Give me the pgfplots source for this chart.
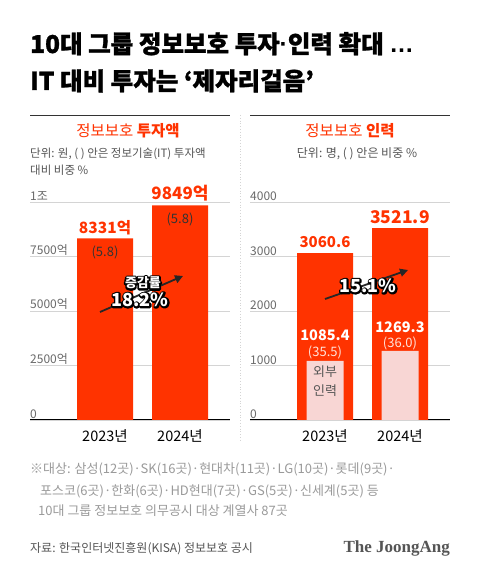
\documentclass[border=0pt]{standalone}
\usepackage{fontspec}
\setmainfont{Noto Sans CJK KR}
\newfontfamily\logofont{Liberation Serif}
\newfontfamily\latinf{Liberation Sans}
\usepackage{pgfplots}
\pgfplotsset{compat=1.18}
\usetikzlibrary{arrows.meta}
\definecolor{barred}{HTML}{FF3300}
\definecolor{pinkbar}{HTML}{F8D6D4}
\definecolor{gridgray}{HTML}{D4D4D4}
\definecolor{tickgray}{HTML}{6A6A6A}
\definecolor{notegray}{HTML}{9A9A9A}
\definecolor{srcgray}{HTML}{555555}
\definecolor{lightlab}{HTML}{FFE3DA}
\newcommand{\fs}[1]{\fontsize{#1}{#1}\selectfont}
\newcommand{\strk}[1]{\special{pdf:literal direct 2 Tr 3.4 w 1 j 0 0 0 RG}#1\special{pdf:literal direct 0 Tr}}
\newcommand{\outl}[3]{%
  \node[text=black,font=#2,inner sep=0pt] at (#1) {\strk{#3}};
  \node[text=white,font=#2,inner sep=0pt] at (#1) {#3};}
\pgfplotsset{panel/.style={
  scale only axis, width=200pt, height=218pt,
  xmin=0, xmax=200, ymin=0,
  axis x line*=bottom, axis y line*=left,
  y axis line style={draw=none},
  x axis line style={black, line width=1pt},
  major tick length=0pt,
  scaled y ticks=false,
  ymajorgrids, grid style={gridgray, line width=0.6pt},
  xtick={75,150}, xticklabels={2023년,2024년},
  xticklabel style={font=\fs{14.5}, text=black, yshift=-6pt},
  yticklabel style={font=\fs{12}, text=tickgray, anchor=south west, inner sep=0pt, yshift=1pt},
  clip=false,
}}
\begin{document}
\begin{tikzpicture}[x=1pt,y=1pt]
\path[use as bounding box, fill=white] (0,0) rectangle (480,578);
% titles
\node[anchor=base west, inner sep=0pt, font=\fs{24.5}\bfseries\addfontfeature{FakeBold=1.2}] at (30,525) {10대 그룹 정보보호 투자{\latinf\bfseries ·}인력 확대 {\latinf\bfseries …}};
\node[anchor=base west, inner sep=0pt, font=\fs{24.5}\bfseries\addfontfeature{FakeBold=1.2}] at (30,488) {IT 대비 투자는 ‘제자리걸음’};
% rules
\draw[black!80, line width=0.9pt] (30,463) -- (230,463);
\draw[black!80, line width=0.9pt] (250,463) -- (450,463);
\draw[gridgray, dotted, line width=0.8pt] (240,463) -- (240,138);
% subtitles
\node[anchor=base, inner sep=0pt, font=\fs{15.5}, text=barred] at (128,441) {정보보호 \textbf{투자액}};
\node[anchor=base, inner sep=0pt, font=\fs{15.5}, text=barred] at (350,441) {정보보호 \textbf{인력}};
\node[anchor=base west, inner sep=0pt, font=\fs{11.5}, text=srcgray] at (30,420) {단위: 원, ( ) 안은 정보기술(IT) 투자액};
\node[anchor=base west, inner sep=0pt, font=\fs{11.5}, text=srcgray] at (30,403) {대비 비중 \%};
\node[anchor=base, inner sep=0pt, font=\fs{12}, text=srcgray] at (357,420) {단위: 명, ( ) 안은 비중 \%};
% left panel
\begin{axis}[panel, at={(30pt,158pt)}, anchor=south west,
  ymax=10000, ytick={0,2500,5000,7500,10000},
  yticklabels={0,2500억,5000억,7500억,1조}]
\addplot[ybar, bar width=56pt, bar shift=0pt, fill=barred, draw=none] coordinates {(75,8331) (150,9849)};
\node[font=\fs{15.5}\bfseries, text=barred] at (axis cs:75,8807) {8331억};
\node[font=\fs{13}, text=black!80] at (axis cs:75,7706) {(5.8)};
\node[font=\fs{17}\bfseries, text=barred] at (axis cs:150,10413) {9849억};
\node[font=\fs{13}, text=black!80] at (axis cs:150,9220) {(5.8)};
\draw[black!85, line width=1.8pt, -{Triangle[length=8pt,width=8pt]}] (axis cs:70,4954) -- (axis cs:153,6606);
\outl{axis cs:113,6284}{\fs{13}\bfseries}{증감률}
\outl{axis cs:110,5505}{\fs{18}\bfseries}{18.2\%}
\end{axis}
% right panel
\begin{axis}[panel, at={(250pt,158pt)}, anchor=south west,
  ymax=4000, ytick={0,1000,2000,3000,4000},
  yticklabels={0,1000,2000,3000,4000}]
\addplot[ybar, bar width=56pt, bar shift=0pt, fill=barred, draw=none] coordinates {(75,3060.6) (150,3521.9)};
\addplot[ybar, bar width=37pt, bar shift=0pt, fill=pinkbar, draw=none] coordinates {(75,1085.4) (150,1269.3)};
\node[font=\fs{15}\bfseries, text=barred] at (axis cs:75,3266) {3060.6};
\node[font=\fs{17.5}\bfseries, text=barred] at (axis cs:150,3725) {3521.9};
\node[font=\fs{14.5}\bfseries, text=white] at (axis cs:75,1560) {1085.4};
\node[font=\fs{13}, text=lightlab] at (axis cs:75,1248) {(35.5)};
\node[font=\fs{14.5}\bfseries, text=white] at (axis cs:150,1706) {1269.3};
\node[font=\fs{13}, text=lightlab] at (axis cs:150,1413) {(36.0)};
\node[font=\fs{13}, text=srcgray] at (axis cs:75,881) {외부};
\node[font=\fs{13}, text=srcgray] at (axis cs:75,532) {인력};
\draw[black!85, line width=1.8pt, -{Triangle[length=8pt,width=8pt]}] (axis cs:75,2220) -- (axis cs:158,2752);
\outl{axis cs:118,2459}{\fs{18}\bfseries}{15.1\%}
\end{axis}
% footnotes
\node[anchor=base west, inner sep=0pt, font=\fs{13}, text=notegray] at (30,104) {※대상: 삼성(12곳)·SK(16곳)·현대차(11곳)·LG(10곳)·롯데(9곳)·};
\node[anchor=base west, inner sep=0pt, font=\fs{13}, text=notegray] at (40,82) {포스코(6곳)·한화(6곳)·HD현대(7곳)·GS(5곳)·신세계(5곳) 등};
\node[anchor=base west, inner sep=0pt, font=\fs{13}, text=notegray] at (38,62) {10대 그룹 정보보호 의무공시 대상 계열사 87곳};
\node[anchor=base west, inner sep=0pt, font=\fs{12}, text=srcgray] at (30,25) {자료: 한국인터넷진흥원(KISA) 정보보호 공시};
\node[anchor=base east, inner sep=0pt, font=\logofont\fs{17}\bfseries, text=srcgray] at (450,25) {The JoongAng};
\end{tikzpicture}
\end{document}
